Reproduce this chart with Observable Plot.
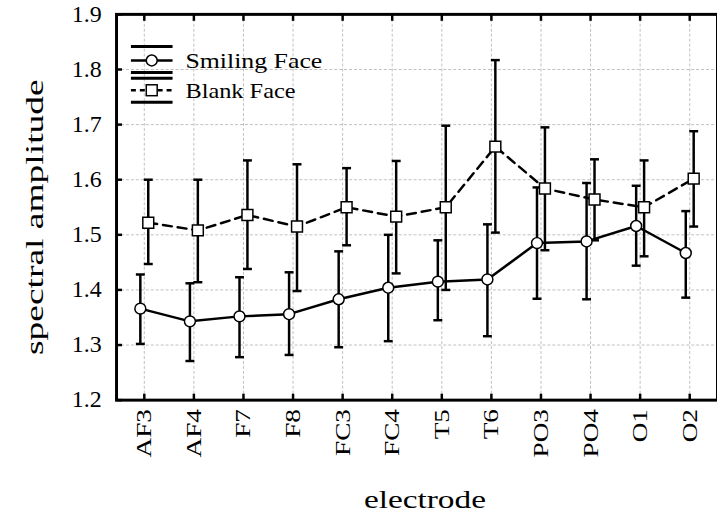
<!DOCTYPE html>
<html><head><meta charset="utf-8">
<script src="https://cdn.jsdelivr.net/npm/d3@7"></script>
<script src="https://cdn.jsdelivr.net/npm/@observablehq/plot@0.6"></script>
<style>
body{margin:0;background:#fff;overflow:hidden}
#chart{width:717px;height:520px;overflow:hidden;position:relative}
</style>
</head><body><div id="chart"></div>
<script>
const electrodes = ["AF3","AF4","F7","F8","FC3","FC4","T5","T6","PO3","PO4","O1","O2"];
const seriesNames = ["Smiling Face","Blank Face"];
const smilingMean = [1.366,1.343,1.352,1.356,1.383,1.404,1.415,1.419,1.485,1.488,1.516,1.467];
const smilingLow  = [1.302,1.271,1.278,1.282,1.296,1.307,1.345,1.316,1.384,1.383,1.444,1.386];
const smilingHigh = [1.428,1.412,1.423,1.432,1.470,1.500,1.490,1.519,1.586,1.594,1.589,1.543];
const blankMean = [1.522,1.508,1.536,1.515,1.550,1.533,1.550,1.660,1.584,1.564,1.550,1.602];
const blankLow  = [1.447,1.414,1.438,1.398,1.481,1.430,1.400,1.504,1.472,1.490,1.461,1.515];
const blankHigh = [1.600,1.600,1.635,1.628,1.621,1.634,1.698,1.817,1.695,1.637,1.635,1.688];
const yTicks = [1.2,1.3,1.4,1.5,1.6,1.7,1.8,1.9];
const xLabel = "electrode";
const yLabel = "spectral amplitude";

const smiling = electrodes.map((e,i)=>({e, m:smilingMean[i], lo:smilingLow[i], hi:smilingHigh[i]}));
const blank = electrodes.map((e,i)=>({e, m:blankMean[i], lo:blankLow[i], hi:blankHigh[i]}));

const font = "Liberation Serif";
const sOff = -4, bOff = 4;

// horizontal cap symbol (width = sqrt(size))
const capSymbol = {draw(ctx, size){ const w = Math.sqrt(size)/2; ctx.moveTo(-w,0); ctx.lineTo(w,0); }};
const capR = 9 / Math.sqrt(Math.PI);

function errMarks(rows, off){
  return [
    Plot.ruleX(rows, {x:"e", y1:"lo", y2:"hi", dx:off, stroke:"black", strokeWidth:2.5}),
    Plot.dot(rows, {x:"e", y:"lo", dx:off, symbol:capSymbol, r:capR, fill:"none", stroke:"black", strokeWidth:2.5}),
    Plot.dot(rows, {x:"e", y:"hi", dx:off, symbol:capSymbol, r:capR, fill:"none", stroke:"black", strokeWidth:2.5})
  ];
}

const chart = Plot.plot({
  width: 723, height: 520,
  marginLeft: 117, marginRight: 0, marginTop: 14, marginBottom: 117,
  style: {fontFamily: font, background: "white", color: "black"},
  x: {type: "point", domain: electrodes, padding: 0.45},
  y: {domain: [1.2, 1.9]},
  marks: [
    Plot.gridY(yTicks, {stroke:"#c0c0c0", strokeOpacity:1, strokeDasharray:"3 2", strokeWidth:1}),
    Plot.gridX(electrodes, {stroke:"#c0c0c0", strokeOpacity:1, strokeDasharray:"3 2", strokeWidth:1}),
    Plot.line(blank, {x:"e", y:"m", dx:bOff, stroke:"black", strokeWidth:2.5, strokeDasharray:"9 6"}),
    Plot.line(smiling, {x:"e", y:"m", dx:sOff, stroke:"black", strokeWidth:2.5}),
    ...errMarks(blank, bOff),
    ...errMarks(smiling, sOff),
    Plot.dot(blank, {x:"e", y:"m", dx:bOff, symbol:"square", r:6.2, fill:"white", stroke:"black", strokeWidth:1.5}),
    Plot.dot(smiling, {x:"e", y:"m", dx:sOff, symbol:"circle", r:5.5, fill:"white", stroke:"black", strokeWidth:1.5}),
    Plot.frame({stroke:"black", strokeWidth:3}),
    Plot.axisY(yTicks, {anchor:"left", tickSize:0, tickPadding:15, tickFormat:d3.format(".1f"), label:null}),
    Plot.axisY(yTicks, {anchor:"left", tickSize:-6, strokeWidth:2.5, tickFormat:()=>"", label:null}),
    Plot.axisX(electrodes, {anchor:"bottom", tickSize:0, tickPadding:9, tickRotate:-90, label:null}),
    Plot.axisX(electrodes, {anchor:"bottom", tickSize:-6, strokeWidth:2.5, tickFormat:()=>"", label:null}),
    Plot.axisX(electrodes, {anchor:"top", tickSize:-6, strokeWidth:2.5, tickFormat:()=>"", label:null}),
    Plot.text([xLabel], {frameAnchor:"bottom", dy:100, dx:8, textAnchor:"middle", lineAnchor:"middle", fill:"black"}),
    Plot.text([yLabel], {frameAnchor:"left", dx:-82, dy:10, rotate:-90, textAnchor:"middle", fill:"black"})
  ]
});
document.getElementById("chart").appendChild(chart);

const svg = d3.select(chart);
function stretchTo(node, len){ node.setAttribute("textLength", len); node.setAttribute("lengthAdjust","spacingAndGlyphs"); }
function stretchBy(node, f){ const L = node.getComputedTextLength(); if (L>0) stretchTo(node, L*f); }
const yTickSet = new Set(yTicks.map(d3.format(".1f")));
const xTickSet = new Set(electrodes);
svg.selectAll("text").each(function(){
  const t = this.textContent;
  if (yTickSet.has(t)) { this.style.fontSize = "23px"; stretchBy(this, 1.05); }
  else if (xTickSet.has(t)) { this.style.fontSize = "22px"; stretchBy(this, 1.25); }
  else if (t === yLabel) { this.style.fontSize = "26px"; stretchTo(this, 278); }
  else if (t === xLabel) { this.style.fontSize = "26px"; stretchTo(this, 123); }
});

// legend
const lg = svg.append("g").attr("stroke","black").attr("fill","none");
const rows = [
  {name:seriesNames[0], cy:61, top:47, bot:73, dash:null, sym:"circle", len:138},
  {name:seriesNames[1], cy:91, top:79, bot:103, dash:"5 4", sym:"square", len:111}
];
rows.forEach(r=>{
  lg.append("line").attr("x1",132).attr("x2",174).attr("y1",r.top).attr("y2",r.top).attr("stroke-width",3);
  lg.append("line").attr("x1",132).attr("x2",174).attr("y1",r.bot).attr("y2",r.bot).attr("stroke-width",3);
  lg.append("line").attr("x1",132).attr("x2",174).attr("y1",r.cy).attr("y2",r.cy).attr("stroke-width",2.5).attr("stroke-dasharray",r.dash);
  if (r.sym==="circle") lg.append("circle").attr("cx",153).attr("cy",r.cy).attr("r",5.5).attr("fill","white").attr("stroke-width",1.5);
  else lg.append("rect").attr("x",147.5).attr("y",r.cy-5.5).attr("width",11).attr("height",11).attr("fill","white").attr("stroke-width",1.5);
  const t = svg.append("text").attr("x",187).attr("y",r.cy+8).attr("text-anchor","start")
    .attr("font-family",font).attr("fill","black").style("font-size","21px").text(r.name);
  stretchTo(t.node(), r.len);
});
</script>
</body></html>
